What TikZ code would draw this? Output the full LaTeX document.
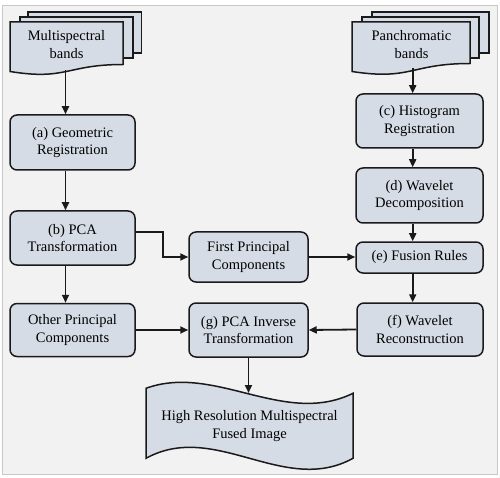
\documentclass[tikz,border=0pt]{standalone}
\usepackage{fontspec}
\setmainfont{Liberation Serif}
\usetikzlibrary{arrows.meta}
\definecolor{boxfill}{HTML}{D6DCE5}
\definecolor{bgfill}{HTML}{F2F2F2}
\definecolor{framegray}{HTML}{C8C8C8}
\definecolor{linedark}{HTML}{1A1A1A}

\begin{document}
\begin{tikzpicture}[x=1pt,y=1pt,
    lbl/.style={align=center,font=\fontsize{14.5}{17.7}\selectfont},
    box/.style={lbl,draw=linedark,fill=boxfill,line width=1.5pt,rounded corners=7pt,inner sep=0pt},
    sheet/.style={draw=linedark,fill=boxfill,line width=1.5pt},
    arr/.style={-{Triangle[length=8pt,width=7pt]},line width=1.8pt,linedark}]
    \useasboundingbox (0,0) rectangle (500,477);
    % Fond gris
    \draw[framegray,fill=bgfill,line width=1pt] (2,3) rectangle (497,471);

    % Pile des bandes multispectrales
    \draw[sheet] (28,424) rectangle (141.5,465);
    \draw[sheet] (20,419) rectangle (133,460);
    \draw[sheet] (10,455) -- (123,455) -- (123,412.5)
        .. controls (66.5,412.5) and (66.5,396.3) .. (10,405.5) -- cycle;
    \node[lbl] (ms) at (66.5,432.5) {Multispectral\\bands};
    \coordinate (msbot) at (65.5,407);

    % Pile des bandes panchromatiques
    \draw[sheet] (372,424) rectangle (489,465);
    \draw[sheet] (362,419) rectangle (479,460);
    \draw[sheet] (352,455) -- (470,455) -- (470,413.5)
        .. controls (411,413.5) and (411,396.3) .. (352,405.5) -- cycle;
    \node[lbl] (pb) at (411.5,432.5) {Panchromatic\\bands};
    \coordinate (pbot) at (412.7,409);

    % Boites de traitement
    \node[box,minimum width=125,minimum height=55] (ga) at (72.5,334.5) {(a) Geometric\\Registration};
    \node[box,minimum width=125,minimum height=54] (pt) at (72.5,239) {(b) PCA\\Transformation};
    \node[box,minimum width=125,minimum height=53] (opc) at (72.5,147) {Other Principal\\Components};
    \node[box,minimum width=119,minimum height=50] (fpc) at (248.5,220) {First Principal\\Components};
    \node[box,minimum width=119,minimum height=54] (pit) at (248.5,147) {(g) PCA Inverse\\Transformation};
    \node[box,minimum width=127,minimum height=54] (hr) at (419.5,356) {(c) Histogram\\Registration};
    \node[box,minimum width=127,minimum height=55] (wd) at (419.5,281.5) {(d) Wavelet\\Decomposition};
    \node[box,minimum width=127,minimum height=31] (fr) at (419.5,219.5) {(e) Fusion Rules};
    \node[box,minimum width=126,minimum height=53] (wr) at (420,147.5) {(f) Wavelet\\Reconstruction};

    % Image fusionnee (ruban ondule)
    \draw[sheet] (146,88.7) .. controls (215,113.7) and (284,50) .. (353,83.7)
        -- (353,18.7) .. controls (284,-19.3) and (215,56.7) .. (146,18.7) -- cycle;
    \node[lbl] (hrf) at (249.5,51) {High Resolution Multispectral\\Fused Image};
    \coordinate (outtop) at (248.5,84);

    % Fleches, branche gauche
    \draw[arr] (msbot) -- (msbot |- ga.north);
    \draw[arr] (msbot |- ga.south) -- (msbot |- pt.north);
    \draw[arr] (msbot |- pt.south) -- (msbot |- opc.north);
    \draw[arr] ([yshift=6pt]pt.east) -- ++(27,0) |- (fpc.west);
    \draw[arr] (opc.east) -- (pit.west);

    % Fleches, branche droite
    \draw[arr] (pbot) -- (pbot |- hr.north);
    \draw[arr] (pbot |- hr.south) -- (pbot |- wd.north);
    \draw[arr] (pbot |- wd.south) -- (pbot |- fr.north);
    \draw[arr] (pbot |- fr.south) -- (pbot |- wr.north);
    \draw[arr] (fpc.east) -- (fpc.east -| fr.west);
    \draw[arr] (wr.west) -- (pit.east);

    % Vers l'image finale
    \draw[arr] (pit.south) -- (outtop);
\end{tikzpicture}
\end{document}
